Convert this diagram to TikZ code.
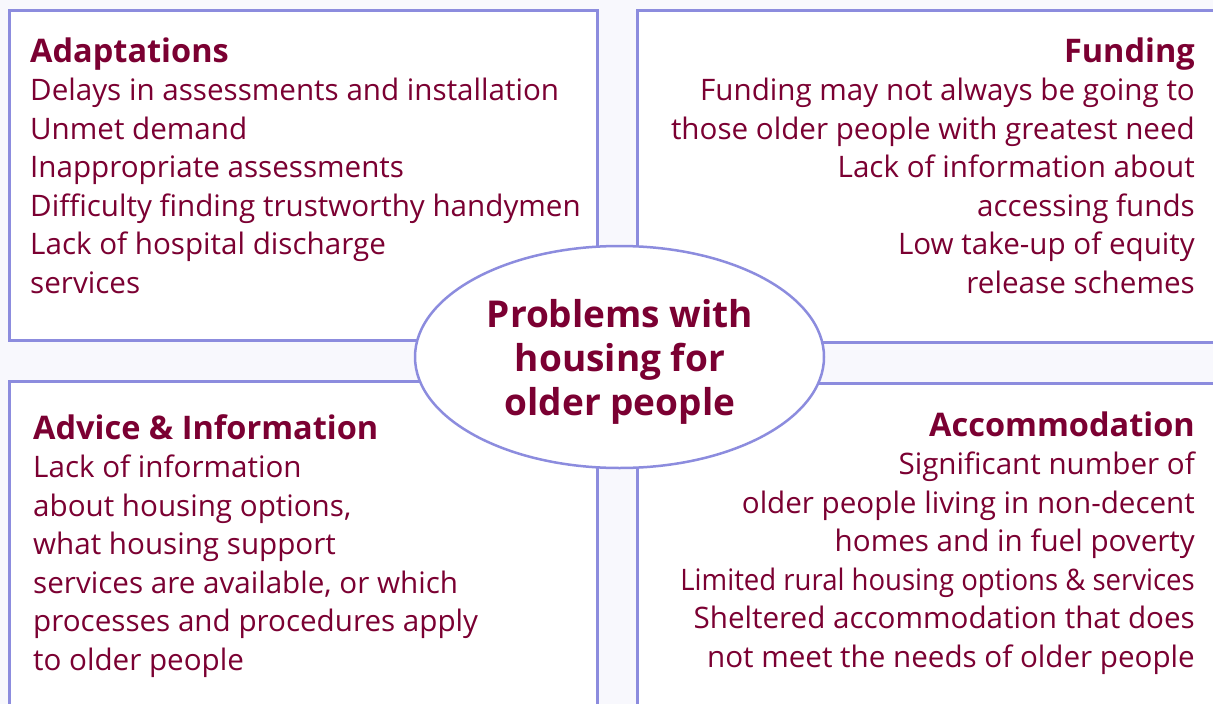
\documentclass[tikz,border=0pt]{standalone}
\usepackage{fontspec}
\setmainfont{Open Sans}
\usetikzlibrary{shapes.geometric}
\definecolor{bgcol}{HTML}{F8F8FD}
\definecolor{edgecol}{HTML}{8C8CDE}
\definecolor{txtcol}{HTML}{7B0032}
\newcommand{\headtxt}[1]{{\fontsize{32.5}{38.5}\selectfont\bfseries #1}}
\newcommand{\narrowline}[1]{\scalebox{0.93}[1]{#1}}
\tikzset{
  panel/.style={draw=edgecol, line width=3pt, fill=white},
  hub/.style={ellipse, draw=edgecol, line width=2.5pt, fill=white, inner sep=0pt,
    minimum width=409pt, minimum height=222pt},
  title/.style={text=txtcol, align=center, inner sep=0pt,
    font=\fontsize{37}{44}\selectfont\bfseries},
  body/.style={text=txtcol, inner sep=0pt, font=\fontsize{29.6}{38.5}\selectfont},
  bodyL/.style={body, align=left, anchor=base west},
  bodyR/.style={body, align=right, anchor=base east},
}
\begin{document}
\begin{tikzpicture}[x=1pt,y=-1pt]
\useasboundingbox (0,0) rectangle (1213,704);
\fill[bgcol] (0,0) rectangle (1213,704);
\begin{scope}
\clip (0,0) rectangle (1213,704);
\draw[panel] (9,10) rectangle (597,340);
\draw[panel] (637,10) rectangle (1230,342);
\draw[panel] (9,381) rectangle (597,720);
\draw[panel] (637,383) rectangle (1230,720);
\end{scope}
\node[hub] (hub) at (619.5,357) {};
\node[title] (ttl) at (620,362) {Problems with\\housing for\\older people};

\node[bodyL] (adapt) at (30,293) {\headtxt{Adaptations}\\Delays in assessments and installation\\Unmet demand\\Inappropriate assessments\\Difficulty finding trustworthy handymen\\Lack of hospital discharge\\services};
\node[bodyR] (fund) at (1195,293) {\headtxt{Funding}\\Funding may not always be going to\\those older people with greatest need\\Lack of information about\\accessing funds\\Low take-up of equity\\release schemes};
\node[bodyL] (advice) at (33,670) {\headtxt{Advice \& Information}\\Lack of information\\about housing options,\\what housing support\\services are available, or which\\processes and procedures apply\\to older people};
\node[bodyR] (accom) at (1195,667) {\headtxt{Accommodation}\\Significant number of\\older people living in non-decent\\homes and in fuel poverty\\\narrowline{Limited rural housing options \& services}\\Sheltered accommodation that does\\not meet the needs of older people};
\end{tikzpicture}
\end{document}
